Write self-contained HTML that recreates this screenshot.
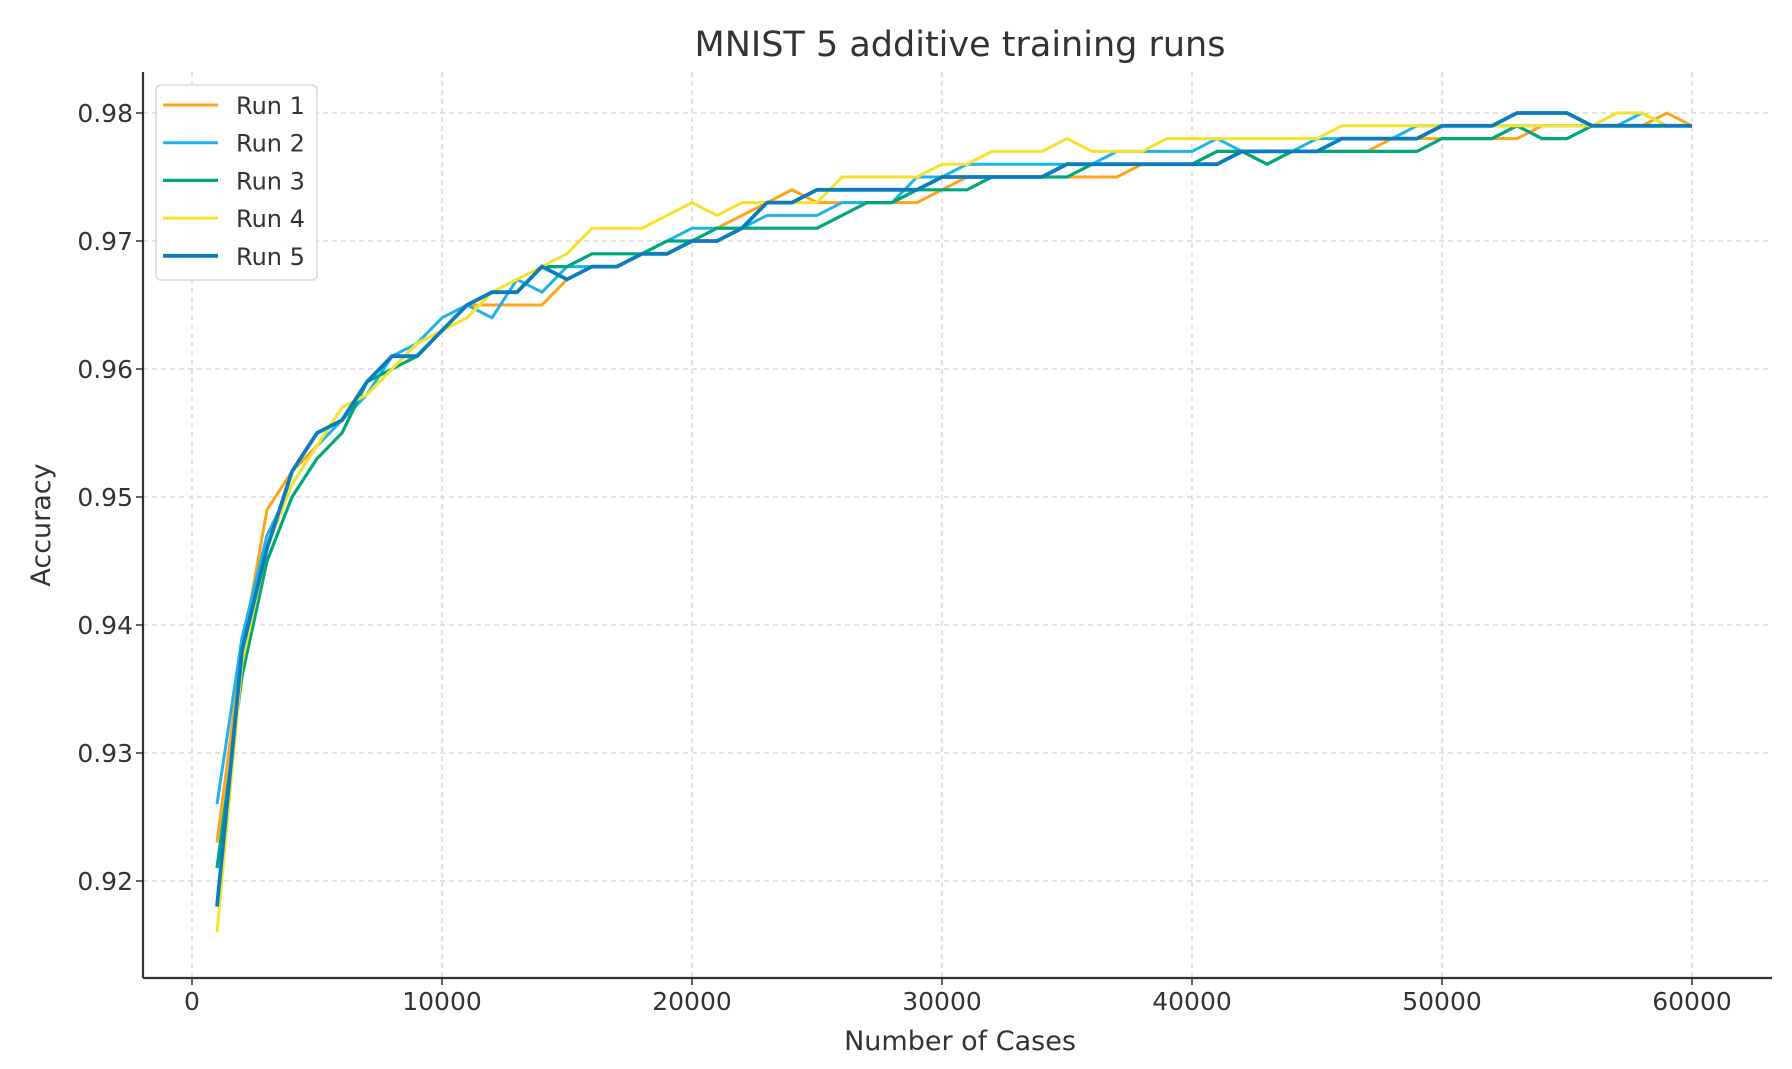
<!DOCTYPE html>
<html><head><meta charset="utf-8"><style>
html,body{margin:0;padding:0;background:#fff;}
svg{display:block;font-family:"DejaVu Sans","Liberation Sans",sans-serif;}
</style></head><body>
<svg id="chart" width="1792" height="1069" viewBox="0 0 1792 1069">
<text x="960" y="56" text-anchor="middle" font-size="35" fill="#333">MNIST 5 additive training runs</text>
<g id="grid"></g>
<g id="series"></g>
<g id="axes"></g>
<text x="960" y="1050" text-anchor="middle" font-size="27" fill="#333">Number of Cases</text>
<text x="0" y="0" transform="translate(50,525) rotate(-90)" text-anchor="middle" font-size="27" fill="#333">Accuracy</text>
<g id="legend"></g>
</svg>
<script>
const xTicks=[0,10000,20000,30000,40000,50000,60000];
const yTicks=[0.92,0.93,0.94,0.95,0.96,0.97,0.98];
const yTickLabels=["0.92","0.93","0.94","0.95","0.96","0.97","0.98"];
const seriesNames=["Run 1","Run 2","Run 3","Run 4","Run 5"];
const run1=[.923,.938,.949,.952,.954,.956,.958,.960,.962,.963,.965,.965,.965,.965,.967,.968,.968,.969,.970,.970,.971,.972,.973,.974,.973,.973,.973,.973,.973,.974,.975,.975,.975,.975,.975,.975,.975,.976,.976,.976,.977,.977,.977,.977,.977,.977,.977,.978,.978,.978,.978,.978,.978,.979,.979,.979,.979,.979,.980,.979];
const run2=[.926,.939,.947,.951,.954,.956,.958,.961,.962,.964,.965,.964,.967,.966,.968,.968,.968,.969,.970,.971,.971,.971,.972,.972,.972,.973,.973,.973,.975,.975,.976,.976,.976,.976,.976,.976,.977,.977,.977,.977,.978,.977,.977,.977,.978,.978,.978,.978,.979,.979,.979,.979,.979,.979,.979,.979,.979,.980,.979,.979];
const run3=[.921,.936,.945,.950,.953,.955,.959,.960,.961,.963,.965,.966,.966,.968,.968,.969,.969,.969,.970,.970,.971,.971,.971,.971,.971,.972,.973,.973,.974,.974,.974,.975,.975,.975,.975,.976,.976,.976,.976,.976,.977,.977,.976,.977,.977,.977,.977,.977,.977,.978,.978,.978,.979,.978,.978,.979,.979,.979,.979,.979];
const run4=[.916,.937,.946,.951,.954,.957,.958,.960,.962,.963,.964,.966,.967,.968,.969,.971,.971,.971,.972,.973,.972,.973,.973,.973,.973,.975,.975,.975,.975,.976,.976,.977,.977,.977,.978,.977,.977,.977,.978,.978,.978,.978,.978,.978,.978,.979,.979,.979,.979,.979,.979,.979,.979,.979,.979,.979,.980,.980,.979,.979];
const run5=[.918,.938,.946,.952,.955,.956,.959,.961,.961,.963,.965,.966,.966,.968,.967,.968,.968,.969,.969,.970,.970,.971,.973,.973,.974,.974,.974,.974,.974,.975,.975,.975,.975,.975,.976,.976,.976,.976,.976,.976,.976,.977,.977,.977,.977,.978,.978,.978,.978,.979,.979,.979,.980,.980,.980,.979,.979,.979,.979,.979];
const allRuns=[run1,run2,run3,run4,run5];
const colors=["#ffa319","#1cb4ea","#00a77a","#f7e12b","#0b7dbd"];
const widths=[3,3,3.2,3,3.8];
const NS="http://www.w3.org/2000/svg";
const L=143,R=1772,T=72,B=978;
function sx(v){return 192+(v/10000)*250;}
function sy(v){return 113+(0.98-v)*12800;}
function mk(tag,attrs,parent){const e=document.createElementNS(NS,tag);for(const k in attrs)e.setAttribute(k,attrs[k]);parent.appendChild(e);return e;}
const grid=document.getElementById('grid'),axes=document.getElementById('axes'),ser=document.getElementById('series'),leg=document.getElementById('legend');
xTicks.forEach((t)=>{
  const g=mk('line',{x1:sx(t),x2:sx(t),y1:T,y2:B,stroke:'#d4d4d4','stroke-width':1.3,'stroke-dasharray':'5,4'},grid);
  
  
  const tk=mk('line',{x1:sx(t),x2:sx(t),y1:B,y2:B+7,stroke:'#333','stroke-width':1.5},axes);
  
  
  const lb=mk('text',{x:sx(t),y:B+32,'text-anchor':'middle','font-size':25,fill:'#333'},axes);
  lb.textContent=String(t);
  
  
});
yTicks.forEach((t,i)=>{
  const g=mk('line',{x1:L,x2:R,y1:sy(t),y2:sy(t),stroke:'#d4d4d4','stroke-width':1.3,'stroke-dasharray':'5,4'},grid);
  
  
  const tk=mk('line',{x1:L-7,x2:L,y1:sy(t),y2:sy(t),stroke:'#333','stroke-width':1.5},axes);
  
  
  const lb=mk('text',{x:L-10,y:sy(t)+9,'text-anchor':'end','font-size':25,fill:'#333'},axes);
  lb.textContent=yTickLabels[i];
  
  
});
const ax1=mk('line',{x1:L,x2:L,y1:T,y2:B,stroke:'#333','stroke-width':2.2},axes);


const ax2=mk('line',{x1:L,x2:R,y1:B,y2:B,stroke:'#333','stroke-width':2.2},axes);


allRuns.forEach((run,i)=>{
  const pts=run.map((v,j)=>sx((j+1)*1000).toFixed(1)+','+sy(v).toFixed(1)).join(' ');
  const p=mk('polyline',{points:pts,fill:'none',stroke:colors[i],'stroke-width':widths[i],'stroke-linejoin':'miter'},ser);
  
  
});
const box=mk('rect',{x:156,y:85,width:161,height:195,rx:5,fill:'#fff','fill-opacity':0.85,stroke:'#d8d8d8','stroke-width':1.5},leg);


seriesNames.forEach((n,i)=>{
  const y=105+i*37.7;
  const ln=mk('line',{x1:163,x2:218,y1:y,y2:y,stroke:colors[i],'stroke-width':widths[i]},leg);
  
  
  const tx=mk('text',{x:236,y:y+9,'font-size':24,fill:'#333'},leg);
  tx.textContent=n;
  
  
});
</script>
</body></html>
